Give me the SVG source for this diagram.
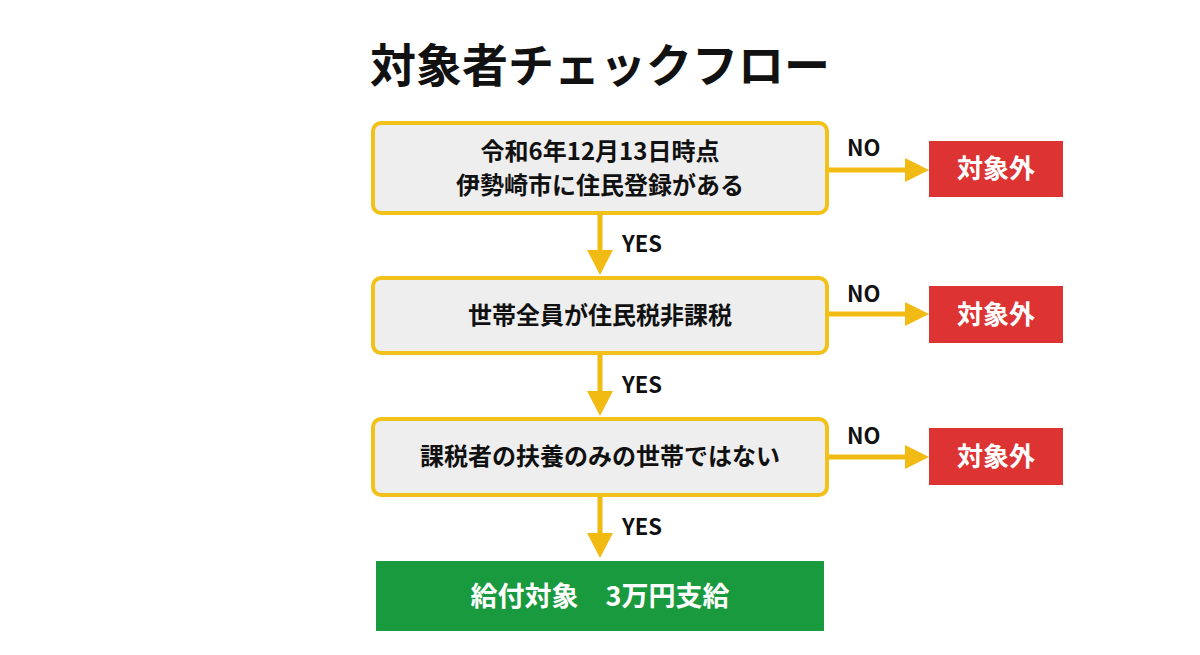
<svg xmlns="http://www.w3.org/2000/svg" width="1200" height="655" viewBox="0 0 1200 655">
<style>
text{font-family:"Noto Sans CJK JP","Noto Sans",sans-serif;font-weight:bold;text-anchor:middle}
.q{fill:#eeeeee;stroke:#f2c21b;stroke-width:4}
.q2{font-size:24px;fill:#111}
.n{fill:#dd3333}
.nt{font-size:26px;fill:#fff}
.l{font-size:22px;fill:#111;text-anchor:start}
.c{stroke:#f2bb14;stroke-width:5;fill:none}
.h{fill:#f2bb14}
</style>
<rect width="1200" height="655" fill="#fff"/>
<text x="600" y="82" font-size="46" fill="#111">対象者チェックフロー</text>
<g id="q1"><rect class="q" x="373" y="123" width="454" height="90" rx="8"/><text class="q2" x="600" y="160">令和6年12月13日時点</text><text class="q2" x="600" y="194">伊勢崎市に住民登録がある</text></g>
<g id="q2"><rect class="q" x="373" y="278" width="454" height="75" rx="8"/><text class="q2" x="600" y="324">世帯全員が住民税非課税</text></g>
<g id="q3"><rect class="q" x="373" y="419" width="454" height="76" rx="8"/><text class="q2" x="600" y="465">課税者の扶養のみの世帯ではない</text></g>
<g id="ok"><rect x="376" y="561" width="448" height="70" fill="#1a9a3e"/><text x="600" y="606" font-size="27" fill="#fff">給付対象　3万円支給</text></g>
<g id="n1"><rect class="n" x="929" y="141" width="134" height="56"/><text class="nt" x="996" y="178">対象外</text></g>
<g id="n2"><rect class="n" x="929" y="286" width="134" height="57"/><text class="nt" x="996" y="324">対象外</text></g>
<g id="n3"><rect class="n" x="929" y="428" width="134" height="57"/><text class="nt" x="996" y="466">対象外</text></g>
<g id="connectors">
<path class="c" d="M600 215V252M600 355V393M600 497V535M829 170H907M829 314H907M829 457H907"/>
<path class="h" d="M587 250H613L600 275ZM587 391H613L600 416ZM587 533H613L600 558ZM905 158L929 170L905 182ZM905 302L929 314L905 326ZM905 445L929 457L905 469Z"/>
<text class="l" x="622" y="252">YES</text><text class="l" x="622" y="393">YES</text><text class="l" x="622" y="535">YES</text>
<text class="l" x="847" y="156">NO</text><text class="l" x="847" y="302">NO</text><text class="l" x="847" y="444">NO</text>
</g>
</svg>
